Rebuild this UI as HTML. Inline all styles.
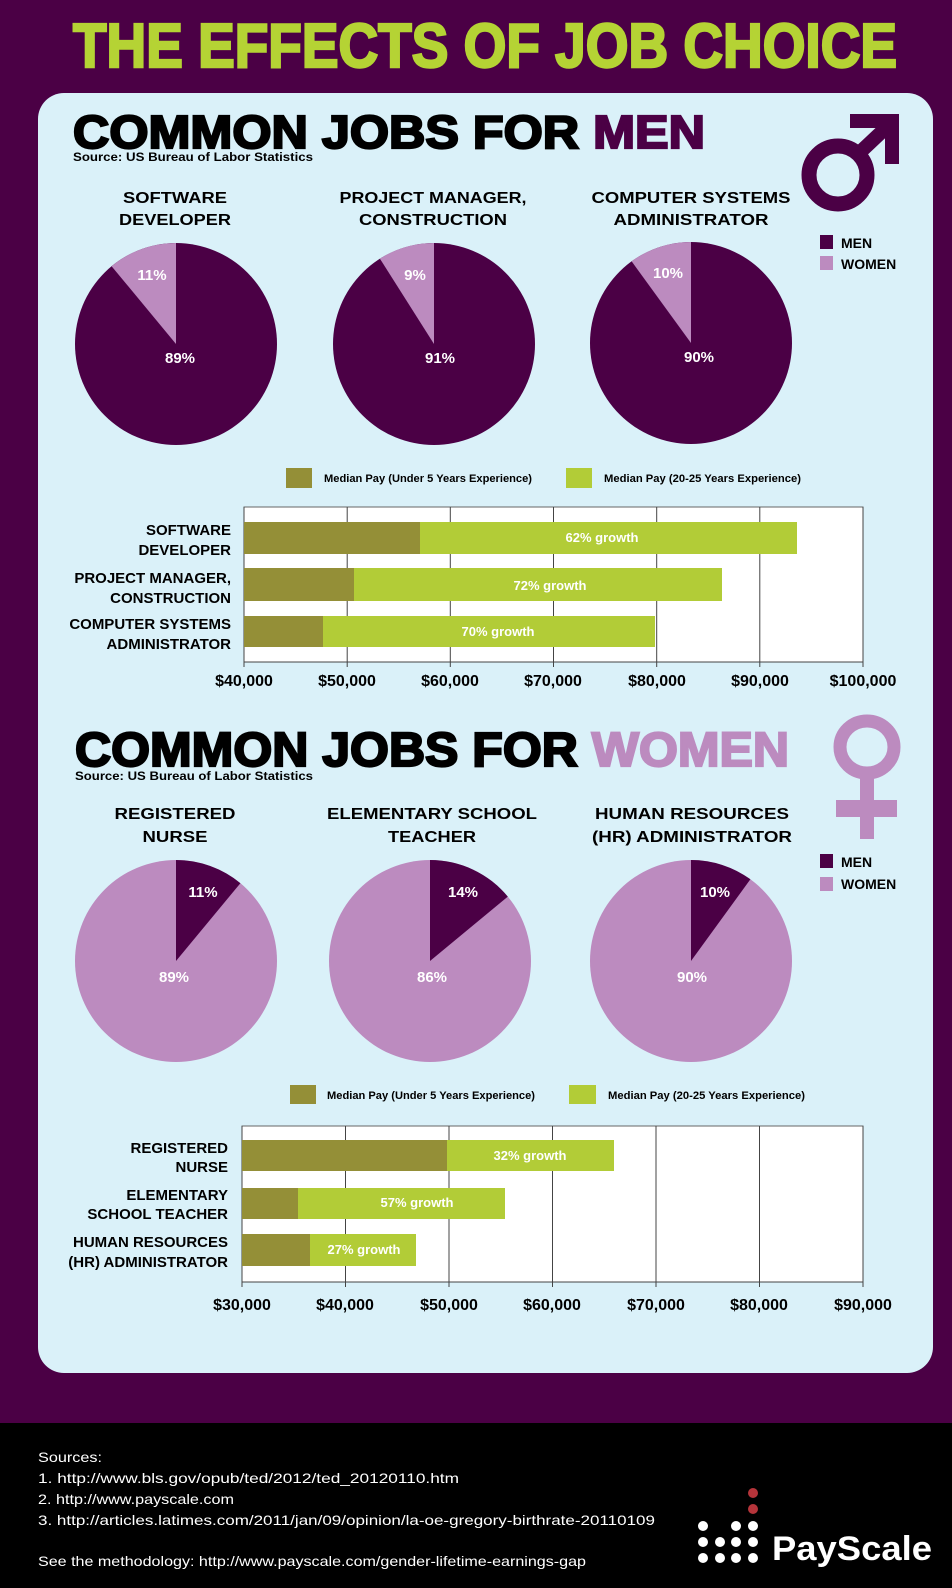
<!DOCTYPE html>
<html><head><meta charset="utf-8"><style>html,body{margin:0;padding:0;background:#4b0045}svg{display:block}</style></head>
<body>
<svg width="952" height="1588" viewBox="0 0 952 1588" xmlns="http://www.w3.org/2000/svg" font-family="Liberation Sans, sans-serif" font-weight="bold">
<rect width="952" height="1588" fill="#4b0045"/>
<rect x="0" y="1423" width="952" height="165" fill="#000"/>
<text x="73" y="67" font-size="62" fill="#b5d334" stroke="#b5d334" stroke-width="2.5" textLength="824" lengthAdjust="spacingAndGlyphs">THE EFFECTS OF JOB CHOICE</text>
<rect x="38" y="93" width="895" height="1280" rx="26" fill="#daf1f9"/>

<text x="73" y="148" font-size="46" fill="#000" stroke="#000" stroke-width="2.2" textLength="632" lengthAdjust="spacingAndGlyphs">COMMON JOBS FOR <tspan fill="#4b0045" stroke="#4b0045">MEN</tspan></text>
<text x="73" y="161" font-size="11.5" fill="#000" textLength="240" lengthAdjust="spacingAndGlyphs">Source: US Bureau of Labor Statistics</text>
<circle cx="838" cy="175" r="29" fill="none" stroke="#4b0045" stroke-width="15"/>
<line x1="856" y1="156" x2="890" y2="124" stroke="#4b0045" stroke-width="14"/>
<path d="M850 114 L899 114 L899 164 L885 164 L885 128 L850 128 Z" fill="#4b0045"/>

<g font-size="16" fill="#000" text-anchor="middle">
<text x="175" y="203" textLength="104" lengthAdjust="spacingAndGlyphs">SOFTWARE</text>
<text x="175" y="225" textLength="112" lengthAdjust="spacingAndGlyphs">DEVELOPER</text>
<text x="433" y="203" textLength="187" lengthAdjust="spacingAndGlyphs">PROJECT MANAGER,</text>
<text x="433" y="225" textLength="148" lengthAdjust="spacingAndGlyphs">CONSTRUCTION</text>
<text x="691" y="203" textLength="199" lengthAdjust="spacingAndGlyphs">COMPUTER SYSTEMS</text>
<text x="691" y="225" textLength="155" lengthAdjust="spacingAndGlyphs">ADMINISTRATOR</text>
</g>
<circle cx="176" cy="344" r="101" fill="#4b0045"/>
<path d="M176 344 L176 243 A101 101 0 0 0 111.6 266.2 Z" fill="#bc8bbf"/>
<circle cx="434" cy="344" r="101" fill="#4b0045"/>
<path d="M434 344 L434 243 A101 101 0 0 0 379.9 258.7 Z" fill="#bc8bbf"/>
<circle cx="691" cy="343" r="101" fill="#4b0045"/>
<path d="M691 343 L691 242 A101 101 0 0 0 631.6 261.3 Z" fill="#bc8bbf"/>
<g font-size="15" fill="#fff" text-anchor="middle">
<text x="152" y="280">11%</text><text x="180" y="363">89%</text>
<text x="415" y="280">9%</text><text x="440" y="363">91%</text>
<text x="668" y="278">10%</text><text x="699" y="362">90%</text>
</g>
<rect x="820" y="235" width="13" height="14" fill="#4b0045"/>
<rect x="820" y="256" width="13" height="14" fill="#bc8bbf"/>
<text x="841" y="248" font-size="14" fill="#000">MEN</text>
<text x="841" y="269" font-size="14" fill="#000">WOMEN</text>

<rect x="286" y="468" width="26" height="20" fill="#948f37"/>
<text x="324" y="482" font-size="11" fill="#000" textLength="208" lengthAdjust="spacingAndGlyphs">Median Pay (Under 5 Years Experience)</text>
<rect x="566" y="468" width="26" height="20" fill="#b2cc37"/>
<text x="604" y="482" font-size="11" fill="#000" textLength="197" lengthAdjust="spacingAndGlyphs">Median Pay (20-25 Years Experience)</text>
<rect x="244" y="507" width="619" height="155" fill="#fff" stroke="#666" stroke-width="1"/>
<g stroke="#444" stroke-width="1">
<line x1="347.2" y1="507" x2="347.2" y2="667"/><line x1="450.3" y1="507" x2="450.3" y2="667"/>
<line x1="553.5" y1="507" x2="553.5" y2="667"/><line x1="656.7" y1="507" x2="656.7" y2="667"/>
<line x1="759.8" y1="507" x2="759.8" y2="667"/><line x1="244" y1="507" x2="244" y2="667"/><line x1="863" y1="507" x2="863" y2="667"/>
<line x1="244" y1="662" x2="863" y2="662"/>
</g>
<rect x="244" y="522" width="176" height="32" fill="#948f37"/><rect x="420" y="522" width="377" height="32" fill="#b2cc37"/>
<rect x="244" y="568" width="110" height="33" fill="#948f37"/><rect x="354" y="568" width="368" height="33" fill="#b2cc37"/>
<rect x="244" y="616" width="79" height="31" fill="#948f37"/><rect x="323" y="616" width="332" height="31" fill="#b2cc37"/>
<g font-size="13" fill="#fff" text-anchor="middle">
<text x="602" y="542">62% growth</text><text x="550" y="590">72% growth</text><text x="498" y="636">70% growth</text>
</g>
<g font-size="15" fill="#000" text-anchor="end">
<text x="231" y="535">SOFTWARE</text><text x="231" y="555">DEVELOPER</text>
<text x="231" y="583">PROJECT MANAGER,</text><text x="231" y="603">CONSTRUCTION</text>
<text x="231" y="629">COMPUTER SYSTEMS</text><text x="231" y="649">ADMINISTRATOR</text>
</g>
<g font-size="16" fill="#000" text-anchor="middle">
<text x="244" y="686">$40,000</text><text x="347" y="686">$50,000</text><text x="450" y="686">$60,000</text>
<text x="553" y="686">$70,000</text><text x="657" y="686">$80,000</text><text x="760" y="686">$90,000</text><text x="863" y="686">$100,000</text>
</g>

<text x="75" y="766" font-size="48" fill="#000" stroke="#000" stroke-width="2.2" textLength="714" lengthAdjust="spacingAndGlyphs">COMMON JOBS FOR <tspan fill="#bc8bbf" stroke="#bc8bbf">WOMEN</tspan></text>
<text x="75" y="780" font-size="11.5" fill="#000" textLength="238" lengthAdjust="spacingAndGlyphs">Source: US Bureau of Labor Statistics</text>
<ellipse cx="867" cy="747" rx="27" ry="26" fill="none" stroke="#bc8bbf" stroke-width="13"/>
<rect x="860" y="778" width="14" height="61" fill="#bc8bbf"/>
<rect x="836" y="800" width="61" height="17" fill="#bc8bbf"/>

<g font-size="16" fill="#000" text-anchor="middle">
<text x="175" y="819" textLength="121" lengthAdjust="spacingAndGlyphs">REGISTERED</text>
<text x="175" y="842" textLength="65" lengthAdjust="spacingAndGlyphs">NURSE</text>
<text x="432" y="819" textLength="210" lengthAdjust="spacingAndGlyphs">ELEMENTARY SCHOOL</text>
<text x="432" y="842" textLength="88" lengthAdjust="spacingAndGlyphs">TEACHER</text>
<text x="692" y="819" textLength="194" lengthAdjust="spacingAndGlyphs">HUMAN RESOURCES</text>
<text x="692" y="842" textLength="200" lengthAdjust="spacingAndGlyphs">(HR) ADMINISTRATOR</text>
</g>
<circle cx="176" cy="961" r="101" fill="#bc8bbf"/>
<path d="M176 961 L176 860 A101 101 0 0 1 240.4 883.2 Z" fill="#4b0045"/>
<circle cx="430" cy="961" r="101" fill="#bc8bbf"/>
<path d="M430 961 L430 860 A101 101 0 0 1 507.8 896.6 Z" fill="#4b0045"/>
<circle cx="691" cy="961" r="101" fill="#bc8bbf"/>
<path d="M691 961 L691 860 A101 101 0 0 1 750.4 879.3 Z" fill="#4b0045"/>
<g font-size="15" fill="#fff" text-anchor="middle">
<text x="203" y="897">11%</text><text x="174" y="982">89%</text>
<text x="463" y="897">14%</text><text x="432" y="982">86%</text>
<text x="715" y="897">10%</text><text x="692" y="982">90%</text>
</g>
<rect x="820" y="854" width="13" height="14" fill="#4b0045"/>
<rect x="820" y="877" width="13" height="14" fill="#bc8bbf"/>
<text x="841" y="867" font-size="14" fill="#000">MEN</text>
<text x="841" y="889" font-size="14" fill="#000">WOMEN</text>

<rect x="290" y="1085" width="26" height="19" fill="#948f37"/>
<text x="327" y="1099" font-size="11" fill="#000" textLength="208" lengthAdjust="spacingAndGlyphs">Median Pay (Under 5 Years Experience)</text>
<rect x="569" y="1085" width="27" height="19" fill="#b2cc37"/>
<text x="608" y="1099" font-size="11" fill="#000" textLength="197" lengthAdjust="spacingAndGlyphs">Median Pay (20-25 Years Experience)</text>
<rect x="242" y="1126" width="621" height="156" fill="#fff" stroke="#666" stroke-width="1"/>
<g stroke="#444" stroke-width="1">
<line x1="345.5" y1="1126" x2="345.5" y2="1287"/><line x1="449" y1="1126" x2="449" y2="1287"/>
<line x1="552.5" y1="1126" x2="552.5" y2="1287"/><line x1="656" y1="1126" x2="656" y2="1287"/>
<line x1="759.5" y1="1126" x2="759.5" y2="1287"/><line x1="242" y1="1126" x2="242" y2="1287"/><line x1="863" y1="1126" x2="863" y2="1287"/>
<line x1="242" y1="1282" x2="863" y2="1282"/>
</g>
<rect x="242" y="1140" width="205" height="31" fill="#948f37"/><rect x="447" y="1140" width="167" height="31" fill="#b2cc37"/>
<rect x="242" y="1188" width="56" height="31" fill="#948f37"/><rect x="298" y="1188" width="207" height="31" fill="#b2cc37"/>
<rect x="242" y="1234" width="68" height="32" fill="#948f37"/><rect x="310" y="1234" width="106" height="32" fill="#b2cc37"/>
<g font-size="13" fill="#fff" text-anchor="middle">
<text x="530" y="1160">32% growth</text><text x="417" y="1207">57% growth</text><text x="364" y="1254">27% growth</text>
</g>
<g font-size="15" fill="#000" text-anchor="end">
<text x="228" y="1153">REGISTERED</text><text x="228" y="1172">NURSE</text>
<text x="228" y="1200">ELEMENTARY</text><text x="228" y="1219">SCHOOL TEACHER</text>
<text x="228" y="1247">HUMAN RESOURCES</text><text x="228" y="1267">(HR) ADMINISTRATOR</text>
</g>
<g font-size="16" fill="#000" text-anchor="middle">
<text x="242" y="1310">$30,000</text><text x="345" y="1310">$40,000</text><text x="449" y="1310">$50,000</text>
<text x="552" y="1310">$60,000</text><text x="656" y="1310">$70,000</text><text x="759" y="1310">$80,000</text><text x="863" y="1310">$90,000</text>
</g>

<g font-weight="normal" font-size="14" fill="#fff">
<text x="38" y="1462" textLength="64" lengthAdjust="spacingAndGlyphs">Sources:</text>
<text x="38" y="1483" textLength="421" lengthAdjust="spacingAndGlyphs">1. http://www.bls.gov/opub/ted/2012/ted_20120110.htm</text>
<text x="38" y="1504" textLength="196" lengthAdjust="spacingAndGlyphs">2. http://www.payscale.com</text>
<text x="38" y="1525" textLength="617" lengthAdjust="spacingAndGlyphs">3. http://articles.latimes.com/2011/jan/09/opinion/la-oe-gregory-birthrate-20110109</text>
<text x="38" y="1566" textLength="548" lengthAdjust="spacingAndGlyphs">See the methodology: http://www.payscale.com/gender-lifetime-earnings-gap</text>
</g>
<g fill="#fff">
<circle cx="753" cy="1493" r="5" fill="#b5343a"/><circle cx="753" cy="1509" r="5" fill="#b5343a"/>
<circle cx="703" cy="1526" r="5"/><circle cx="736" cy="1526" r="5"/><circle cx="753" cy="1526" r="5"/>
<circle cx="703" cy="1542" r="5"/><circle cx="720" cy="1542" r="5"/><circle cx="736" cy="1542" r="5"/><circle cx="753" cy="1542" r="5"/>
<circle cx="703" cy="1558" r="5"/><circle cx="720" cy="1558" r="5"/><circle cx="736" cy="1558" r="5"/><circle cx="753" cy="1558" r="5"/>
</g>
<text x="772" y="1560" font-size="34" fill="#fff" textLength="160" lengthAdjust="spacingAndGlyphs">PayScale</text>
</svg>
</body></html>
